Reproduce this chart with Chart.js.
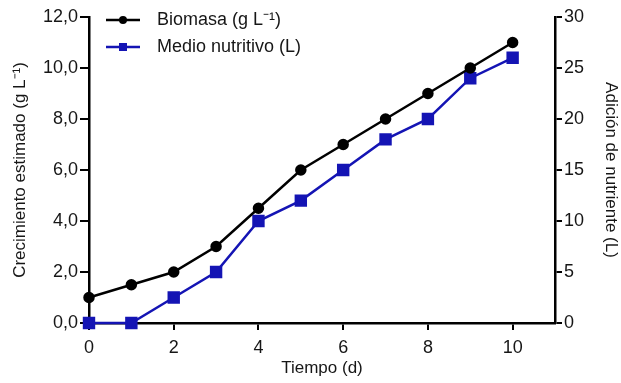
<!DOCTYPE html>
<html>
<head>
<meta charset="utf-8">
<script src="https://cdn.jsdelivr.net/npm/chart.js@4"></script>
<style>
  html, body { margin: 0; padding: 0; background: #fff; }
  #wrap { width: 621px; height: 383px; }
</style>
</head>
<body>
<div id="wrap"><canvas id="growthChart" width="621" height="383"></canvas></div>
<script>
// Datos
const dias = [0, 1, 2, 3, 4, 5, 6, 7, 8, 9, 10];
const biomasa = [1.0, 1.5, 2.0, 3.0, 4.5, 6.0, 7.0, 8.0, 9.0, 10.0, 11.0];
const medioNutritivo = [0, 0, 2.5, 5, 10, 12, 15, 18, 20, 24, 26];
const xTicks = [0, 2, 4, 6, 8, 10];

const FONT = '"Liberation Sans", Arial, sans-serif';
const BLUE = '#1414b4';
const TEXT = '#161616';

// leyenda dibujada dentro del área del gráfico
const legendInside = {
    id: 'legendInside',
    afterDraw(chart) {
        const ctx = chart.ctx;
        const items = [
            { label: 'Biomasa (g L\u207B\u00B9)', color: '#000', style: 'circle', y: 20 },
            { label: 'Medio nutritivo (L)', color: BLUE, style: 'rect', y: 47 },
        ];
        ctx.save();
        items.forEach(it => {
            ctx.strokeStyle = it.color;
            ctx.fillStyle = it.color;
            ctx.lineWidth = 2.5;
            ctx.beginPath();
            ctx.moveTo(106, it.y);
            ctx.lineTo(140, it.y);
            ctx.stroke();
            if (it.style === 'circle') {
                ctx.beginPath();
                ctx.arc(123, it.y, 4, 0, Math.PI * 2);
                ctx.fill();
            } else {
                ctx.fillRect(119, it.y - 4, 8, 8);
            }
            ctx.fillStyle = TEXT;
            ctx.font = '18px ' + FONT;
            ctx.textBaseline = 'middle';
            ctx.fillText(it.label, 157, it.y);
        });
        ctx.restore();
    }
};

const canvas = document.querySelector('#growthChart');
const chart = new Chart(canvas, {
    type: 'line',
    data: {
        labels: dias,
        datasets: [
            {
                label: 'Biomasa (g L-1)',
                data: dias.map((d, i) => ({ x: d, y: biomasa[i] })),
                yAxisID: 'y',
                borderColor: '#000',
                backgroundColor: '#000',
                borderWidth: 2.5,
                pointStyle: 'circle',
                pointRadius: 4.5,
                pointHoverRadius: 4.5,
                clip: false,
            },
            {
                label: 'Medio nutritivo (L)',
                data: dias.map((d, i) => ({ x: d, y: medioNutritivo[i] })),
                yAxisID: 'y1',
                borderColor: BLUE,
                backgroundColor: BLUE,
                borderWidth: 2.5,
                pointStyle: 'rect',
                pointRadius: 7,
                pointHoverRadius: 7,
                clip: false,
            },
        ],
    },
    options: {
        responsive: false,
        animation: false,
        layout: { padding: { top: 17, left: 6, right: 0, bottom: 0 } },
        plugins: {
            legend: { display: false },
            tooltip: { enabled: false },
        },
        scales: {
            x: {
                type: 'linear',
                min: 0,
                max: 11,
                afterBuildTicks: axis => { axis.ticks = xTicks.map(v => ({ value: v })); },
                afterFit: axis => { axis.height = 60; },
                border: { color: '#000', width: 2.5 },
                grid: { drawOnChartArea: false, tickLength: 7, color: '#000', lineWidth: 2 },
                ticks: { color: TEXT, font: { family: FONT, size: 18 }, padding: 7 },
                title: {
                    display: true,
                    text: 'Tiempo (d)',
                    color: TEXT,
                    font: { family: FONT, size: 17 },
                    padding: { top: 0 },
                },
            },
            y: {
                position: 'left',
                min: 0,
                max: 12,
                afterFit: axis => { axis.width = 83; },
                border: { color: '#000', width: 2.5 },
                grid: { drawOnChartArea: false, tickLength: 9, color: '#000', lineWidth: 2 },
                ticks: {
                    stepSize: 2,
                    color: TEXT,
                    font: { family: FONT, size: 18 },
                    padding: 2,
                    callback: v => v.toFixed(1).replace('.', ','),
                },
                title: {
                    display: true,
                    text: 'Crecimiento estimado (g L\u207B\u00B9)',
                    color: TEXT,
                    font: { family: FONT, size: 17 },
                    padding: { bottom: 0 },
                },
            },
            y1: {
                position: 'right',
                min: 0,
                max: 30,
                afterFit: axis => { axis.width = 66; },
                border: { color: '#000', width: 2.5 },
                grid: { drawOnChartArea: false, tickLength: 7, color: '#000', lineWidth: 2 },
                ticks: { stepSize: 5, color: TEXT, font: { family: FONT, size: 18 }, padding: 2 },
                title: {
                    display: true,
                    text: 'Adición de nutriente (L)',
                    color: TEXT,
                    font: { family: FONT, size: 17 },
                    padding: { top: 0 },
                },
            },
        },
    },
    plugins: [legendInside],
});
</script>
</body>
</html>
